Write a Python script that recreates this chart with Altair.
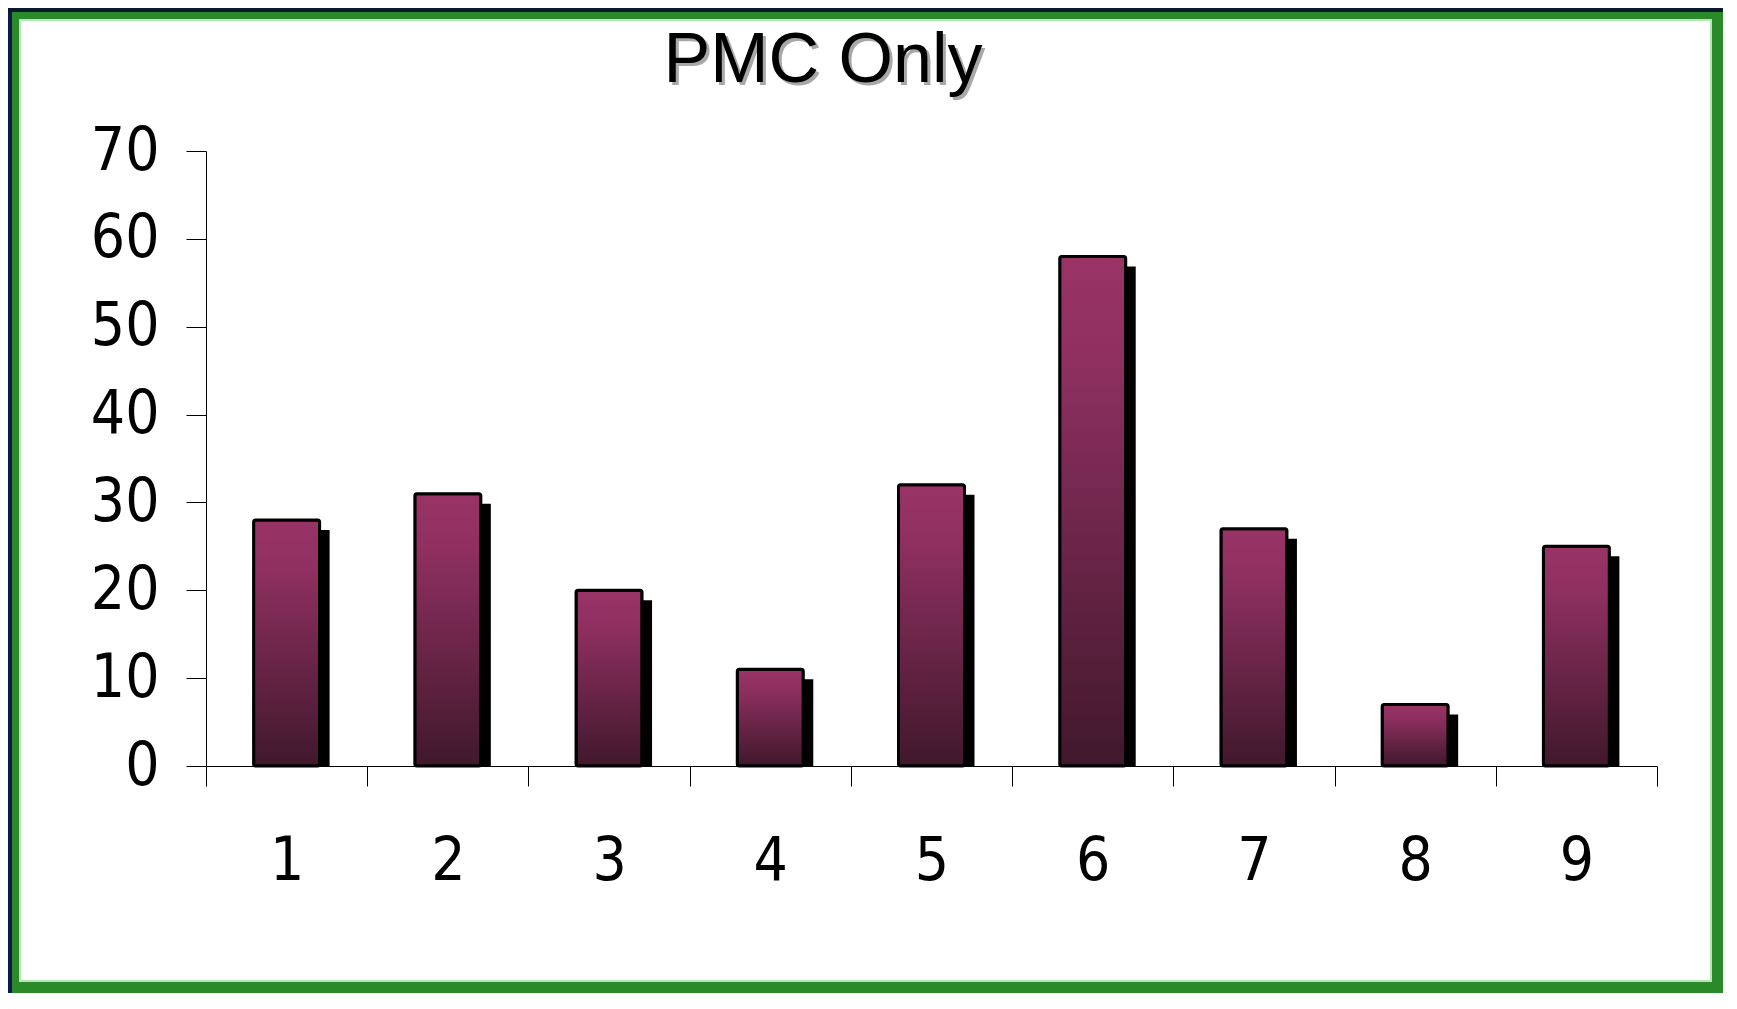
import altair as alt
import pandas as pd

# ---- data ----
categories = ["1", "2", "3", "4", "5", "6", "7", "8", "9"]
values = [28, 31, 20, 11, 32, 58, 27, 7, 25]
y_ticks = [0, 10, 20, 30, 40, 50, 60, 70]
title_text = ["PMC Only"]

df = pd.DataFrame({"cat": categories, "value": values})
title_df = pd.DataFrame({"t": title_text})
frame_df = pd.DataFrame({"k": [0]})

# layout (pixels)
PW, PH = 1451, 615          # plot area
PL, PT, PR, PB = 198, 143, 66, 227   # padding around plot area

NARROW = "DejaVu Sans Condensed"

x_enc = alt.X(
    "cat:N",
    sort=None,
    scale=alt.Scale(paddingInner=0, paddingOuter=0),
    axis=alt.Axis(
        title=None,
        labelAngle=0,
        tickBand="extent",
        tickSize=20,
        tickColor="black",
        domainColor="black",
        labelFont=NARROW,
        labelFontSize=60,
        labelColor="black",
        labelPadding=46,
        labelBaseline="top",
    ),
)
y_axis = alt.Axis(
    title=None,
    values=y_ticks,
    grid=False,
    tickSize=20,
    tickColor="black",
    domainColor="black",
    labelFont=NARROW,
    labelFontSize=60,
    labelColor="black",
    labelPadding=27,
)
y_scale = alt.Scale(domain=[0, 70], nice=False)
y_enc = alt.Y("value:Q", scale=y_scale, axis=y_axis)
y_enc_shadow = alt.Y("value:Q", scale=y_scale, axis=y_axis, stack=None)

gradient = alt.Gradient(
    gradient="linear",
    stops=[
        alt.GradientStop(color="#993366", offset=0),
        alt.GradientStop(color="#8f3060", offset=0.2),
        alt.GradientStop(color="#40182c", offset=1),
    ],
    x1=0, x2=0, y1=0, y2=1,
)

frame_outer = alt.Chart(frame_df).mark_rect(
    fillOpacity=0, stroke="#2a8a2a", strokeWidth=11
).encode(
    x=alt.value(-PL + 5.5), x2=alt.value(PW + PR - 5.5),
    y=alt.value(-PT + 5.5), y2=alt.value(PH + PB - 5.5),
)
frame_inner = alt.Chart(frame_df).mark_rect(
    fillOpacity=0, stroke="#b5e6b5", strokeWidth=2
).encode(
    x=alt.value(-PL + 12), x2=alt.value(PW + PR - 12),
    y=alt.value(-PT + 12), y2=alt.value(PH + PB - 12),
)
frame_navy_left = alt.Chart(frame_df).mark_rule(
    stroke="#0a1a4a", strokeWidth=4
).encode(
    x=alt.value(-PL + 2), y=alt.value(-PT), y2=alt.value(PH + PB),
)
frame_navy_top = alt.Chart(frame_df).mark_rule(
    stroke="#0a1a2a", strokeWidth=4
).encode(
    x=alt.value(-PL), x2=alt.value(PW + PR), y=alt.value(-PT + 2),
)

shadow = alt.Chart(df).mark_bar(
    color="black", size=66, xOffset=10, yOffset=10
).encode(x=x_enc, y=y_enc_shadow, y2=alt.datum(0))

bars = alt.Chart(df).mark_bar(
    size=66, stroke="black", strokeWidth=3, cornerRadius=2, color=gradient
).encode(x=x_enc, y=y_enc)

title_shadow = alt.Chart(title_df).mark_text(
    font="Liberation Sans", fontSize=70, color="#a8a8a8",
    align="center", baseline="alphabetic", dx=3, dy=3,
).encode(text="t:N", x=alt.value(617), y=alt.value(-69))

title = alt.Chart(title_df).mark_text(
    font="Liberation Sans", fontSize=70, color="black",
    align="center", baseline="alphabetic",
).encode(text="t:N", x=alt.value(617), y=alt.value(-69))

chart = alt.layer(
    frame_outer, frame_inner, frame_navy_left, frame_navy_top,
    shadow, bars, title_shadow, title,
).properties(
    width=PW, height=PH,
    autosize=alt.AutoSizeParams(type="none"),
    padding={"left": PL, "top": PT, "right": PR, "bottom": PB},
    background="white",
).configure_view(stroke=None)

chart.save("out.html", embed_options={"renderer": "svg", "actions": False})
